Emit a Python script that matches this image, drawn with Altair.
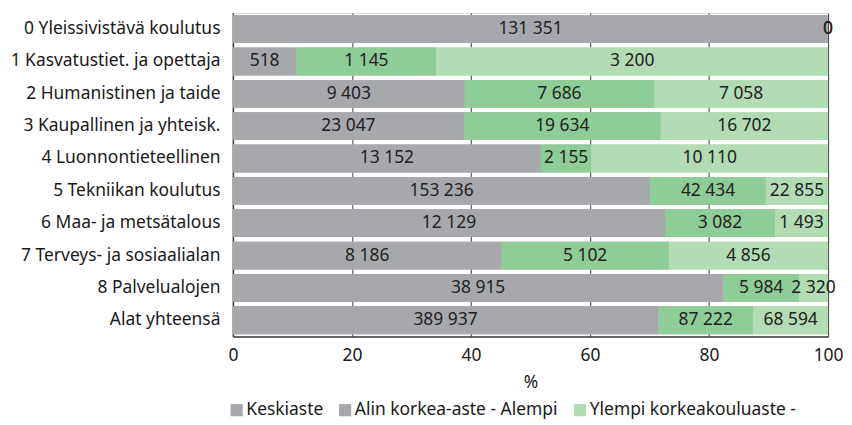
import altair as alt
import pandas as pd

categories = [
    "0 Yleissivistävä koulutus",
    "1 Kasvatustiet. ja opettaja",
    "2 Humanistinen ja taide",
    "3 Kaupallinen ja yhteisk.",
    "4 Luonnontieteellinen",
    "5 Tekniikan koulutus",
    "6 Maa- ja metsätalous",
    "7 Terveys- ja sosiaalialan",
    "8 Palvelualojen",
    "Alat yhteensä",
]
series = ["Keskiaste", "Alin korkea-aste - Alempi", "Ylempi korkeakouluaste -"]
keskiaste = [131351, 518, 9403, 23047, 13152, 153236, 12129, 8186, 38915, 389937]
alin = [0, 1145, 7686, 19634, 2155, 42434, 3082, 5102, 5984, 87222]
ylempi = [0, 3200, 7058, 16702, 10110, 22855, 1493, 4856, 2320, 68594]

bar_colors = ["#a7a8ab", "#8fcd96", "#b2dcb3"]
legend_colors = ["#a7a8ab", "#a7a8ab", "#b2dcb3"]

rows = []
for s_i, (name, vals) in enumerate(zip(series, [keskiaste, alin, ylempi])):
    for cat, v in zip(categories, vals):
        rows.append({"cat": cat, "series": name, "ord": s_i, "value": v,
                     "label": f"{v:,}".replace(",", " ")})
df = pd.DataFrame(rows)

FONT = "Noto Sans"
FS = 17.5
TXT = "#1a1a1a"

base = alt.Chart(df).transform_joinaggregate(
    total="sum(value)", groupby=["cat"]
).transform_calculate(
    pct="datum.value / datum.total * 100"
).transform_stack(
    stack="pct", groupby=["cat"], as_=["start", "end"],
    sort=[alt.SortField("ord", order="ascending")]
).transform_calculate(
    mid="(datum.start + datum.end) / 2"
)

x_enc = alt.X("start:Q", scale=alt.Scale(domain=[0, 100], nice=False),
              title="%",
              axis=alt.Axis(values=[0, 20, 40, 60, 80, 100], grid=True,
                            gridColor="#3a3a3a", gridWidth=1, ticks=False,
                            labelFlush=False,
                            labelFontSize=FS, labelFont=FONT, labelColor=TXT,
                            labelPadding=10, titleFontSize=FS, titleFont=FONT,
                            titleFontWeight="normal", titleColor=TXT,
                            titlePadding=10, domainColor="#3a3a3a", domainWidth=1.5))
y_enc = alt.Y("cat:N", sort=categories, title=None,
              scale=alt.Scale(paddingInner=0.14, paddingOuter=0.07),
              axis=alt.Axis(ticks=False, labelFontSize=FS, labelFont=FONT,
                            labelColor=TXT, labelPadding=13,
                            domainColor="#3a3a3a", domainWidth=1.5, labelLimit=400))

# hidden under-layer that only carries the legend (legend swatches as in the original)
legend_bars = base.mark_bar().encode(
    x=x_enc, x2="end:Q", y=y_enc,
    color=alt.Color(
        "series:N", sort=series,
        scale=alt.Scale(domain=series, range=legend_colors),
        legend=alt.Legend(
            title=None, orient="none", direction="horizontal",
            legendX=-5, legendY=390,
            symbolType="square", symbolSize=150, symbolStrokeWidth=0,
            labelFontSize=FS, labelFont=FONT, labelColor=TXT,
            labelOffset=1, columnPadding=13, labelLimit=400,
        ),
    ),
)

bars = base.mark_bar().encode(
    x=x_enc, x2="end:Q", y=y_enc,
    color=alt.Color("series:N", sort=series,
                    scale=alt.Scale(domain=series, range=bar_colors), legend=None),
)

texts = base.mark_text(font=FONT, fontSize=FS, color="#222").encode(
    x="mid:Q",
    y=alt.Y("cat:N", sort=categories),
    text="label:N",
)

chart = alt.layer(legend_bars, bars, texts).resolve_scale(
    color="independent"
).properties(
    width=598, height=325,
    padding={"left": 2, "top": 4, "right": 0, "bottom": 2},
).configure_view(
    stroke="#3a3a3a", strokeWidth=1.5
).configure(background="white")

chart.save("out.html", embed_options={"renderer": "svg", "actions": False})
